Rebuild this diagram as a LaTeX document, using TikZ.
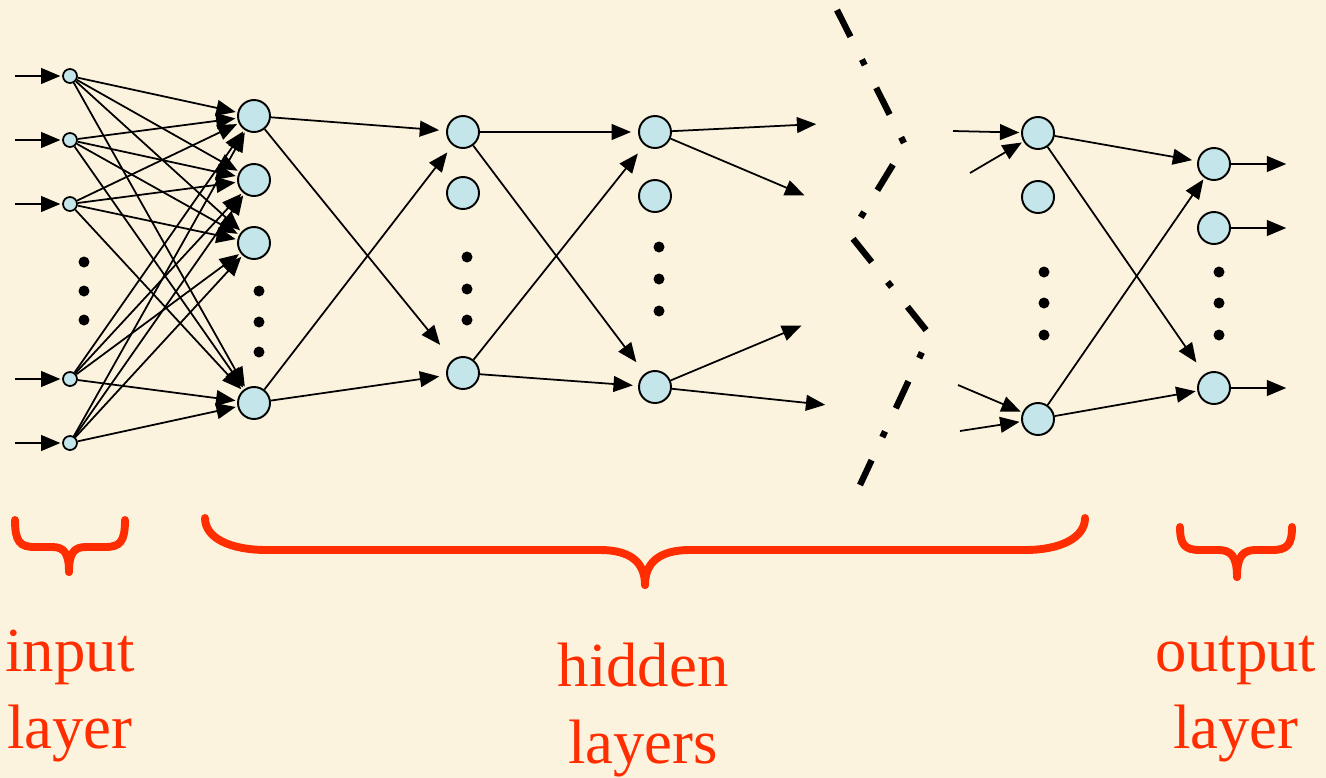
\documentclass[tikz,border=0pt]{standalone}
\usepackage{fontspec}
\setmainfont{Liberation Serif}
\usetikzlibrary{arrows.meta}
\definecolor{paper}{RGB}{252,243,222}
\definecolor{cell}{RGB}{196,229,233}
\definecolor{tag}{RGB}{255,45,0}
\tikzset{
  innode/.style={circle, draw, line width=1pt, fill=cell, minimum size=0.28cm, inner sep=0pt},
  neuron/.style={circle, draw, line width=1.1pt, fill=cell, minimum size=0.64cm, inner sep=0pt},
  blob/.style={circle, fill=black, minimum size=0.22cm, inner sep=0pt},
  link/.style={line width=1pt, -{Triangle[length=11pt,width=9pt]}, shorten >=1pt},
  cutline/.style={line width=3.6pt, dash pattern=on 17pt off 14.5pt on 3.6pt off 14.5pt},
  bracket/.style={tag, line width=4.5pt, line cap=round},
  tagtext/.style={tag, font=\fontsize{35.7}{43.5}\selectfont, align=center, inner sep=0pt, anchor=base}
}
\begin{document}
\begin{tikzpicture}[x=0.02cm, y=-0.02cm]
    \fill[paper] (0,0) rectangle (1326,778);
    \useasboundingbox (0,0) rectangle (1326,778);

    % input layer
    \node[innode] (in1) at (70,76) {};
    \node[innode] (in2) at (70,140) {};
    \node[innode] (in3) at (70,204) {};
    \node[innode] (in4) at (70,379) {};
    \node[innode] (in5) at (70,443) {};
    \node[blob] (ind1) at (84,262) {};
    \node[blob] (ind2) at (84,291) {};
    \node[blob] (ind3) at (84,320) {};

    % hidden layer 1
    \node[neuron] (a1) at (254,116) {};
    \node[neuron] (a2) at (254,180) {};
    \node[neuron] (a3) at (254,243) {};
    \node[neuron] (a4) at (254,403) {};
    \node[blob] (ad1) at (259,291) {};
    \node[blob] (ad2) at (259,322) {};
    \node[blob] (ad3) at (259,352) {};

    % hidden layer 2
    \node[neuron] (b1) at (463,132) {};
    \node[neuron] (b2) at (463,193) {};
    \node[neuron] (b3) at (463,373) {};
    \node[blob] (bd1) at (467,257) {};
    \node[blob] (bd2) at (467,289) {};
    \node[blob] (bd3) at (467,320) {};

    % hidden layer 3
    \node[neuron] (c1) at (655,132) {};
    \node[neuron] (c2) at (655,196) {};
    \node[neuron] (c3) at (655,387) {};
    \node[blob] (cd1) at (659,247) {};
    \node[blob] (cd2) at (659,279) {};
    \node[blob] (cd3) at (659,311) {};

    % last hidden layer
    \node[neuron] (d1) at (1038,133) {};
    \node[neuron] (d2) at (1038,197) {};
    \node[neuron] (d3) at (1038,419) {};
    \node[blob] (dd1) at (1044,272) {};
    \node[blob] (dd2) at (1044,303) {};
    \node[blob] (dd3) at (1044,335) {};

    % output layer
    \node[neuron] (out1) at (1214,164) {};
    \node[neuron] (out2) at (1214,228) {};
    \node[neuron] (out3) at (1214,388) {};
    \node[blob] (od1) at (1219,272) {};
    \node[blob] (od2) at (1219,303) {};
    \node[blob] (od3) at (1219,335) {};

    % free ends
    \coordinate (s1) at (15,76);
    \coordinate (s2) at (15,140);
    \coordinate (s3) at (15,204);
    \coordinate (s4) at (15,379);
    \coordinate (s5) at (15,443);
    \coordinate (c1a) at (818,124);
    \coordinate (c1b) at (806,196);
    \coordinate (c3a) at (803,325);
    \coordinate (c3b) at (827,405);
    \coordinate (d1a) at (953,131);
    \coordinate (d1b) at (970,173);
    \coordinate (d3a) at (958,385);
    \coordinate (d3b) at (960,431);
    \coordinate (e1) at (1288,164);
    \coordinate (e2) at (1288,228);
    \coordinate (e3) at (1288,388);

    \draw[link] (s1) -- (in1);
    \draw[link] (s2) -- (in2);
    \draw[link] (s3) -- (in3);
    \draw[link] (s4) -- (in4);
    \draw[link] (s5) -- (in5);

    \draw[link] (in1) -- (a1);
    \draw[link] (in1) -- (a2);
    \draw[link] (in1) -- (a3);
    \draw[link] (in1) -- (a4);
    \draw[link] (in2) -- (a1);
    \draw[link] (in2) -- (a2);
    \draw[link] (in2) -- (a3);
    \draw[link] (in2) -- (a4);
    \draw[link] (in3) -- (a1);
    \draw[link] (in3) -- (a2);
    \draw[link] (in3) -- (a3);
    \draw[link] (in3) -- (a4);
    \draw[link] (in4) -- (a1);
    \draw[link] (in4) -- (a2);
    \draw[link] (in4) -- (a3);
    \draw[link] (in4) -- (a4);
    \draw[link] (in5) -- (a1);
    \draw[link] (in5) -- (a2);
    \draw[link] (in5) -- (a3);
    \draw[link] (in5) -- (a4);

    \draw[link, shorten >=4pt] (a1) -- (b1);
    \draw[link, shorten >=11pt] (a1) -- (b3);
    \draw[link, shorten >=5pt] (a4) -- (b1);
    \draw[link, shorten >=4pt] (a4) -- (b3);

    \draw[link, shorten >=4pt] (b1) -- (c1);
    \draw[link, shorten >=8pt] (b1) -- (c3);
    \draw[link, shorten >=6pt] (b3) -- (c1);
    \draw[link, shorten >=3pt] (b3) -- (c3);

    \draw[link] (c1) -- (c1a);
    \draw[link] (c1) -- (c1b);
    \draw[link] (c3) -- (c3a);
    \draw[link] (c3) -- (c3b);

    \draw[link] (d1a) -- (d1);
    \draw[link] (d1b) -- (d1);
    \draw[link] (d3a) -- (d3);
    \draw[link] (d3b) -- (d3);

    \draw[link, shorten >=3pt] (d1) -- (out1);
    \draw[link, shorten >=8pt] (d1) -- (out3);
    \draw[link] (d3) -- (out1);
    \draw[link] (d3) -- (out3);

    \draw[link] (out1) -- (e1);
    \draw[link] (out2) -- (e2);
    \draw[link] (out3) -- (e3);

    % break in the chain of layers
    \draw[cutline] (837,10) -- (905,145) -- (850,235) -- (930,335) -- (860,485);

    % braces
    \draw[bracket] (15,520) .. controls (15,542) and (20,547) .. (35,547) -- (52,547)
        .. controls (64,547) and (69,553) .. (69,572);
    \draw[bracket] (125,520) .. controls (125,542) and (120,547) .. (105,547) -- (86,547)
        .. controls (74,547) and (69,553) .. (69,572);
    \draw[bracket] (205,518) .. controls (205,538) and (230,550) .. (267,550) -- (600,550)
        .. controls (630,550) and (645,562) .. (645,585);
    \draw[bracket] (1085,518) .. controls (1085,538) and (1060,550) .. (1025,550) -- (690,550)
        .. controls (660,550) and (645,562) .. (645,585);
    \draw[bracket] (1180,527) .. controls (1180,545) and (1185,550) .. (1200,550) -- (1218,550)
        .. controls (1231,550) and (1237,556) .. (1237,577);
    \draw[bracket] (1292,527) .. controls (1292,545) and (1287,550) .. (1272,550) -- (1256,550)
        .. controls (1243,550) and (1237,556) .. (1237,577);

    % labels
    \node[tagtext] (inlabel) at (70,748) {input\\layer};
    \node[tagtext] (hidlabel) at (643,763) {hidden\\layers};
    \node[tagtext] (outlabel) at (1236,748) {output\\layer};
\end{tikzpicture}
\end{document}
